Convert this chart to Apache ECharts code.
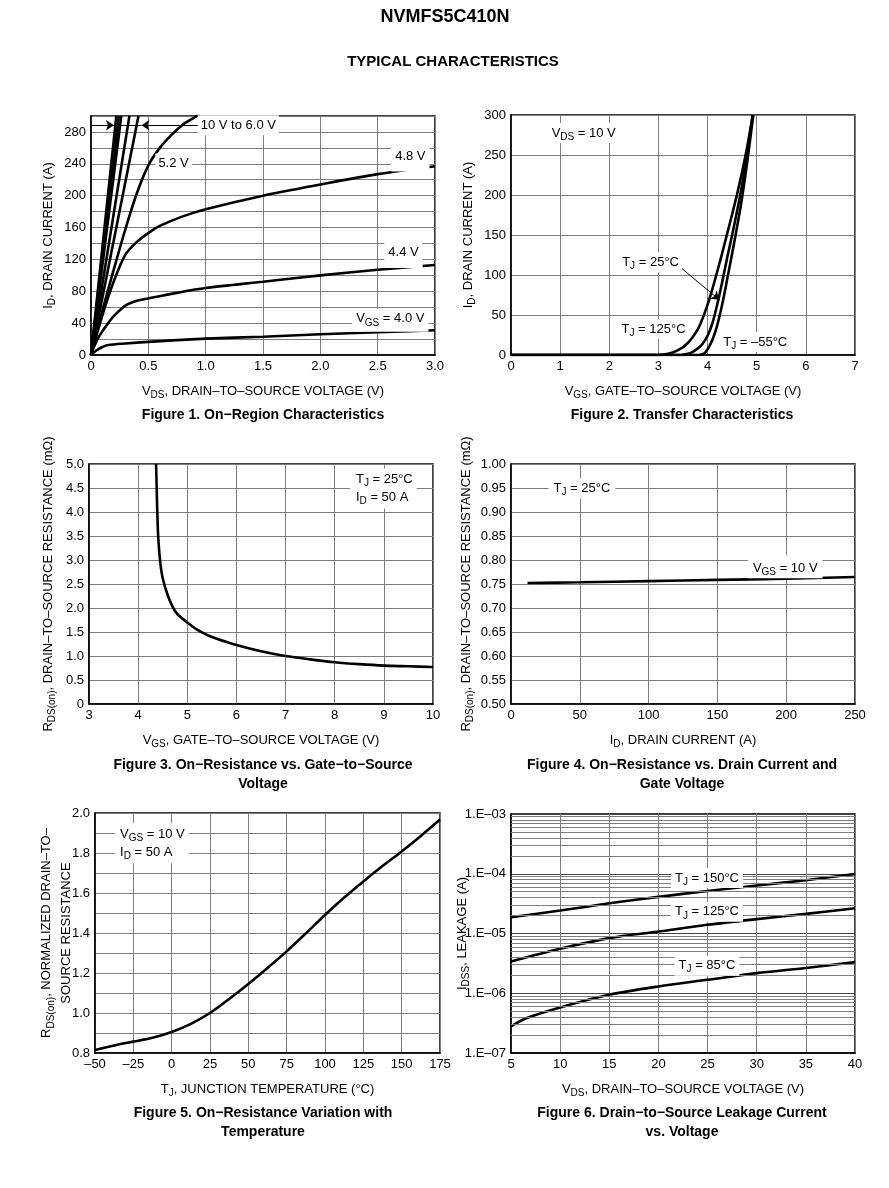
<!DOCTYPE html>
<html><head><meta charset="utf-8">
<script src="https://cdn.jsdelivr.net/npm/echarts@6/dist/echarts.min.js"></script>
<style>html,body{margin:0;padding:0;background:#fff}#c{width:889px;height:1188px}</style>
</head><body><div id="c"></div>
<script>
// ---------- DATA ----------
// Figure 1: On-region characteristics  [VDS (V), ID (A)]
const fig1_10V = [[0,0],[0.221,300]];
const fig1_8V  = [[0,0],[0.243,300]];
const fig1_7V  = [[0,0],[0.264,300]];
const fig1_65V = [[0,0],[0.335,300]];
const fig1_6V  = [[0,0],[0.414,300]];
const fig1_52V = [[0,0],[0.1,56],[0.2,108],[0.3,158],[0.4,203],[0.5,238],[0.6,260],[0.7,276],[0.8,289],[0.9,298],[0.95,302]];
const fig1_48V = [[0,0],[0.1,50],[0.2,93],[0.3,126],[0.4,142],[0.5,153],[0.6,162],[0.8,174],[1.0,183],[1.5,200],[2.0,214],[2.5,227],[3.0,237]];
const fig1_44V = [[0,0],[0.05,18],[0.1,30],[0.15,40],[0.2,49],[0.3,62],[0.4,68],[0.5,71],[0.75,78],[1.0,84],[1.5,92],[2.0,100],[2.5,107],[3.0,113]];
const fig1_40V = [[0,0],[0.05,6],[0.1,10],[0.15,12.5],[0.3,14.5],[0.5,16.5],[1.0,20.5],[1.5,23],[2.0,26],[2.5,28.5],[3.0,31]];
// Figure 2: Transfer characteristics [VGS (V), ID (A)]
const fig2_125 = [[0,0],[3.0,0],[3.2,1.5],[3.4,6],[3.6,15],[3.8,32],[3.9,46],[4.0,63],[4.1,83],[4.2,105],[4.3,128],[4.4,152],[4.5,176],[4.6,201],[4.7,228],[4.8,258],[4.92,300]];
const fig2_25  = [[0,0],[3.45,0],[3.6,1.5],[3.7,4],[3.8,8],[3.9,14],[4.0,24],[4.1,40],[4.2,64],[4.3,92],[4.4,122],[4.5,150],[4.6,180],[4.7,212],[4.8,250],[4.92,300]];
const fig2_m55 = [[0,0],[3.8,0],[3.9,1],[3.95,3],[4.0,7],[4.1,19],[4.2,38],[4.3,64],[4.4,95],[4.5,127],[4.6,160],[4.7,196],[4.8,238],[4.93,300]];
// Figure 3: RDS(on) vs VGS [VGS (V), mOhm]
const fig3_rds = [[4.365,5.0],[4.375,4.6],[4.39,4.0],[4.41,3.45],[4.45,2.95],[4.5,2.62],[4.6,2.27],[4.7,2.03],[4.8,1.87],[5.0,1.70],[5.2,1.55],[5.4,1.44],[5.6,1.36],[6.0,1.23],[6.5,1.10],[7.0,1.00],[7.5,0.93],[8.0,0.87],[8.5,0.83],[9.0,0.80],[9.5,0.785],[10,0.77]];
// Figure 4: RDS(on) vs ID [ID (A), mOhm]
const fig4_rds = [[12,0.752],[50,0.7535],[100,0.756],[150,0.7585],[200,0.761],[250,0.7645]];
// Figure 5: normalized RDS(on) vs TJ [degC, ratio]
const fig5_norm = [[-50,0.815],[-37.5,0.838],[-25,0.857],[-12.5,0.876],[0,0.905],[12.5,0.946],[25,1.0],[37.5,1.07],[50,1.145],[62.5,1.225],[75,1.308],[87.5,1.398],[100,1.49],[112.5,1.577],[125,1.658],[137.5,1.735],[150,1.808],[162.5,1.885],[175,1.967]];
// Figure 6: leakage vs VDS [VDS (V), A]
const fig6_150 = [[5,1.87e-5],[10,2.42e-5],[15,3.2e-5],[20,4.1e-5],[25,5.15e-5],[30,6.35e-5],[35,7.8e-5],[40,9.9e-5]];
const fig6_125 = [[5,3.4e-6],[10,5.55e-6],[15,8.36e-6],[20,1.08e-5],[25,1.4e-5],[30,1.74e-5],[35,2.13e-5],[40,2.65e-5]];
const fig6_85  = [[5,2.79e-7],[6.6,3.85e-7],[10,5.8e-7],[15,9.44e-7],[20,1.3e-6],[25,1.68e-6],[30,2.17e-6],[35,2.64e-6],[40,3.32e-6]];
const fig6_decades = [-7,-6,-5,-4];
const fig6_minorMantissa = [2,3,4,5,6,7,8,9];

// ---------- STYLE ----------
const FONT = '"Liberation Sans", Arial, Helvetica, sans-serif';
const RICH = {
  n: {fontSize: 13, lineHeight: 18, color: '#000', fontFamily: FONT},
  s: {fontSize: 10, lineHeight: 10, verticalAlign: 'bottom', color: '#000', fontFamily: FONT}
};
const RICH2 = {
  n: {fontSize: 13, lineHeight: 20, color: '#000', fontFamily: FONT},
  s: {fontSize: 10, lineHeight: 10, verticalAlign: 'bottom', color: '#000', fontFamily: FONT}
};
const GRIDC = '#7d7d7d';

function axis(g, extra) {
  return Object.assign({
    gridIndex: g, type: 'value',
    axisLine: {show: true, onZero: false, lineStyle: {color: '#000', width: 1.5}},
    axisTick: {show: false},
    splitLine: {show: true, lineStyle: {color: GRIDC, width: 1}},
    axisLabel: {color: '#000', fontSize: 13, margin: 5, fontFamily: FONT},
    nameLocation: 'middle', nameMoveOverlap: false,
    nameTextStyle: {color: '#000', fontSize: 13, fontFamily: FONT, rich: RICH}
  }, extra);
}
function curve(g, data, extra) {
  return Object.assign({
    type: 'line', xAxisIndex: g, yAxisIndex: g, data: data,
    symbol: 'none', showSymbol: false, smooth: 0.3,
    lineStyle: {color: '#000', width: 2.6}, z: 3, silent: true, animation: false
  }, extra || {});
}
function tag(x, y, text, pad, align) {
  return {
    coord: [x, y], symbol: 'rect', symbolSize: 1, itemStyle: {color: 'rgba(0,0,0,0)'},
    label: {show: true, position: 'inside', align: align || 'center', formatter: text, rich: RICH,
      backgroundColor: '#fff', padding: pad || [1, 3, 1, 3], color: '#000', fontSize: 13, lineHeight: 18}
  };
}
function seg(a, b, endSym) {
  return [{coord: a, symbol: 'none'}, {coord: b, symbol: endSym ? 'arrow' : 'none'}];
}
const MLBASE = {silent: true, animation: false, symbolSize: 8, label: {show: false},
  lineStyle: {color: '#000', width: 1, type: 'solid'}, emphasis: {disabled: true}};

const grids = [
  {left: 91, top: 116, width: 344, height: 239},
  {left: 511, top: 115, width: 344, height: 240},
  {left: 89, top: 464, width: 344, height: 240},
  {left: 511, top: 464, width: 344, height: 240},
  {left: 95, top: 813, width: 345, height: 240},
  {left: 511, top: 814, width: 344, height: 239}
].map(g => Object.assign({show: true, borderColor: '#000', borderWidth: 1.5, backgroundColor: 'rgba(0,0,0,0)'}, g));

const one = v => v === 0 ? '0' : v.toFixed(1);
const LBL = {color: '#000', fontSize: 13, margin: 5, fontFamily: FONT};
const xAxes = [
  axis(0, {min: 0, max: 3, interval: 0.5, axisLabel: Object.assign({}, LBL, {formatter: one}),
    name: '{n|V}{s|DS}{n|, DRAIN–TO–SOURCE VOLTAGE (V)}', nameGap: 27}),
  axis(1, {min: 0, max: 7, interval: 1, name: '{n|V}{s|GS}{n|, GATE–TO–SOURCE VOLTAGE (V)}', nameGap: 27}),
  axis(2, {min: 3, max: 10, interval: 1, name: '{n|V}{s|GS}{n|, GATE–TO–SOURCE VOLTAGE (V)}', nameGap: 27}),
  axis(3, {min: 0, max: 250, interval: 50, name: '{n|I}{s|D}{n|, DRAIN CURRENT (A)}', nameGap: 27}),
  axis(4, {min: -50, max: 175, interval: 25, axisLabel: Object.assign({}, LBL, {formatter: v => v < 0 ? '–' + (-v) : String(v)}),
    name: '{n|T}{s|J}{n|, JUNCTION TEMPERATURE (°C)}', nameGap: 27}),
  axis(5, {min: 5, max: 40, interval: 5, name: '{n|V}{s|DS}{n|, DRAIN–TO–SOURCE VOLTAGE (V)}', nameGap: 27})
];
const yAxes = [
  axis(0, {min: 0, max: 300, interval: 20, axisLabel: Object.assign({}, LBL, {formatter: v => (v % 40 === 0 && v < 300) ? String(v) : ''}),
    name: '{n|I}{s|D}{n|, DRAIN CURRENT (A)}', nameGap: 34}),
  axis(1, {min: 0, max: 300, interval: 50, name: '{n|I}{s|D}{n|, DRAIN CURRENT (A)}', nameGap: 34}),
  axis(2, {min: 0, max: 5, interval: 0.5, axisLabel: Object.assign({}, LBL, {formatter: one}),
    name: '{n|R}{s|DS(on)}{n|, DRAIN–TO–SOURCE RESISTANCE (mΩ)}', nameGap: 32}),
  axis(3, {min: 0.5, max: 1.0, interval: 0.05, axisLabel: Object.assign({}, LBL, {formatter: v => v.toFixed(2)}),
    name: '{n|R}{s|DS(on)}{n|, DRAIN–TO–SOURCE RESISTANCE (mΩ)}', nameGap: 36}),
  axis(4, {min: 0.8, max: 2.0, interval: 0.2, minorTick: {show: false, splitNumber: 2}, minorSplitLine: {show: true, lineStyle: {color: GRIDC, width: 1}},
    axisLabel: Object.assign({}, LBL, {formatter: v => v.toFixed(1)}),
    nameTextStyle: {color: '#000', fontSize: 13, fontFamily: FONT, rich: RICH2},
    name: '{n|R}{s|DS(on)}{n|, NORMALIZED DRAIN–TO–}\n{n|SOURCE RESISTANCE}', nameGap: 19}),
  axis(5, {type: 'log', logBase: 10, min: 1e-7, max: 1e-3,
    splitLine: {show: true, lineStyle: {color: '#444', width: 1}},
    axisLabel: Object.assign({}, LBL, {formatter: v => '1.E–0' + Math.round(-Math.log10(v))}),
    name: '{n|I}{s|DSS}{n|, LEAKAGE (A)}', nameGap: 40})
];

const fig6Minor = [];
fig6_decades.forEach(e => fig6_minorMantissa.forEach(m => {
  const v = m * Math.pow(10, e);
  fig6Minor.push([{coord: [5, v], symbol: 'none'}, {coord: [40, v], symbol: 'none'}]);
}));

const series = [
  // Figure 1
  curve(0, fig1_10V, {smooth: false}),
  curve(0, fig1_8V, {smooth: false}),
  curve(0, fig1_7V, {smooth: false}),
  curve(0, fig1_65V, {smooth: false}),
  curve(0, fig1_6V, {smooth: false}),
  curve(0, fig1_52V),
  curve(0, fig1_48V),
  curve(0, fig1_44V),
  curve(0, fig1_40V, {
    markPoint: {silent: true, animation: false, data: [
      tag(1.285, 288.4, '{n|10 V to 6.0 V}'),
      tag(0.72, 240.5, '{n|5.2 V}'),
      tag(2.785, 246, '{n|4.8 V}', [1, 4, 6, 4]),
      tag(2.725, 125, '{n|4.4 V}', [1, 4, 6, 4]),
      tag(2.61, 43.5, '{n|V}{s|GS}{n| = 4.0 V}', [1, 4, 4, 4])
    ]},
    markLine: Object.assign({}, MLBASE, {data: [
      seg([0, 288.4], [0.2, 288.4], true),
      seg([0.2, 288.4], [0.44, 288.4], false),
      seg([0.96, 288.4], [0.44, 288.4], true)
    ]})
  }),
  // Figure 2
  curve(1, fig2_125),
  curve(1, fig2_25),
  curve(1, fig2_m55, {
    markPoint: {silent: true, animation: false, data: [
      tag(1.48, 277.5, '{n|V}{s|DS}{n| = 10 V}'),
      tag(2.84, 116, '{n|T}{s|J}{n| = 25°C}'),
      tag(2.9, 32.5, '{n|T}{s|J}{n| = 125°C}'),
      tag(4.97, 16.3, '{n|T}{s|J}{n| = –55°C}')
    ]},
    markLine: Object.assign({}, MLBASE, {data: [seg([3.42, 111], [4.24, 69], true)]})
  }),
  // Figure 3
  curve(2, fig3_rds, {
    markPoint: {silent: true, animation: false, data: [
      tag(8.31, 4.49, '{n|T}{s|J}{n| = 25°C}\n{n|I}{s|D}{n| = 50 A}', [2, 4, 2, 6], 'left')
    ]}
  }),
  // Figure 4
  curve(3, fig4_rds, {
    markPoint: {silent: true, animation: false, data: [
      tag(51.6, 0.949, '{n|T}{s|J}{n| = 25°C}', [1, 5, 1, 5]),
      tag(199.3, 0.786, '{n|V}{s|GS}{n| = 10 V}', [4, 5, 1, 5])
    ]}
  }),
  // Figure 5
  curve(4, fig5_norm, {
    markPoint: {silent: true, animation: false, data: [
      tag(-36.9, 1.849, '{n|V}{s|GS}{n| = 10 V}\n{n|I}{s|D}{n| = 50 A}', [2, 4, 2, 5], 'left')
    ]}
  }),
  // Figure 6 (minor log grid as markLines)
  curve(5, fig6_150, {
    markLine: Object.assign({}, MLBASE, {lineStyle: {color: GRIDC, width: 1, type: 'solid'}, data: fig6Minor})
  }),
  curve(5, fig6_125),
  curve(5, fig6_85, {
    markPoint: {silent: true, animation: false, data: [
      tag(24.94, 8.5e-5, '{n|T}{s|J}{n| = 150°C}', [1, 4, 1, 4]),
      tag(24.94, 2.31e-5, '{n|T}{s|J}{n| = 125°C}', [1, 4, 1, 4]),
      tag(24.94, 2.89e-6, '{n|T}{s|J}{n| = 85°C}', [1, 4, 1, 4])
    ]}
  })
];

function txt(x, y, text, size) {
  return {type: 'text', x: x, y: y, silent: true,
    style: {text: text, fontSize: size, fontWeight: 'bold', fontFamily: FONT, fill: '#000',
      align: 'center', verticalAlign: 'middle', textAlign: 'center', textVerticalAlign: 'middle'}};
}
const graphics = [
  txt(445, 17, 'NVMFS5C410N', 18),
  txt(453, 62, 'TYPICAL CHARACTERISTICS', 15),
  txt(263, 415, 'Figure 1. On−Region Characteristics', 14),
  txt(682, 415, 'Figure 2. Transfer Characteristics', 14),
  txt(263, 765, 'Figure 3. On−Resistance vs. Gate−to−Source', 14),
  txt(263, 784, 'Voltage', 14),
  txt(682, 765, 'Figure 4. On−Resistance vs. Drain Current and', 14),
  txt(682, 784, 'Gate Voltage', 14),
  txt(263, 1113, 'Figure 5. On−Resistance Variation with', 14),
  txt(263, 1132, 'Temperature', 14),
  txt(682, 1113, 'Figure 6. Drain−to−Source Leakage Current', 14),
  txt(682, 1132, 'vs. Voltage', 14)
];

const chart = echarts.init(document.getElementById('c'), null, {renderer: 'canvas', width: 889, height: 1188});
chart.setOption({
  animation: false,
  backgroundColor: '#fff',
  textStyle: {fontFamily: FONT},
  grid: grids, xAxis: xAxes, yAxis: yAxes, series: series, graphic: graphics
});
</script>
</body></html>
